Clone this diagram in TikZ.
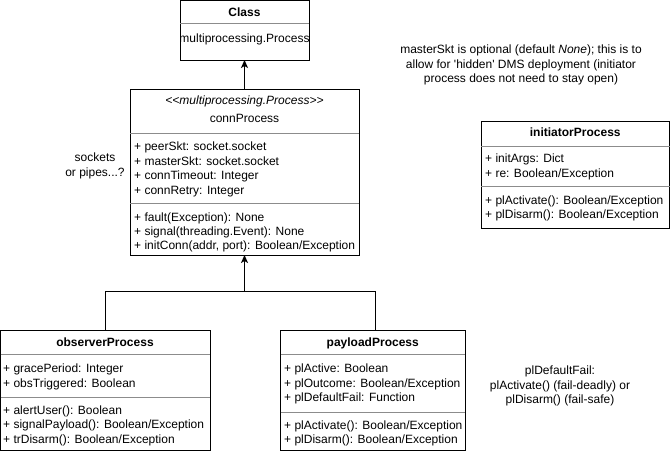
\documentclass[tikz,border=0pt]{standalone}
\usepackage{fontspec}
\setmainfont{Liberation Sans}
\usetikzlibrary{arrows.meta}
\begin{document}
\begin{tikzpicture}[x=1pt,y=-1pt,
  box/.style={draw=black, line width=1pt, rectangle, inner sep=0pt, outer sep=0pt, anchor=north west},
  div/.style={draw=black!45, line width=1pt},
  txt/.style={font=\fontsize{12pt}{14.4pt}\selectfont, inner sep=0pt, text height=8.6pt, text depth=0pt},
  mem/.style={txt, anchor=west},
  ttl/.style={txt, font=\fontsize{12pt}{14.4pt}\selectfont\bfseries},
  stereo/.style={txt, font=\fontsize{12pt}{14.4pt}\selectfont\itshape},
  note/.style={font=\fontsize{12pt}{14.4pt}\selectfont, align=center, inner sep=0pt},
  conn/.style={line width=1pt, draw=black},
  arr/.style={conn, -{Stealth[length=8pt,width=7pt,inset=2pt]}}
]
\useasboundingbox (0,0) rectangle (671,452);

% Class
\node[box, minimum width=129pt, minimum height=59pt] (cls) at (180,1) {};
\draw[div] (180,24) -- (309,24);
\node[ttl] (clsT) at (244.5,12) {Class};
\node[txt] (clsA) at (244.5,38) {multiprocessing.Process};

% connProcess
\node[box, minimum width=229pt, minimum height=165.5pt] (cp) at (130,89.5) {};
\node[stereo] (cpS) at (244.5,100) {<{}<multiprocessing.Process>{}>};
\node[txt] (cpT) at (244.5,118) {connProcess};
\draw[div] (130,133) -- (359,133);
\node[mem] (cpa1) at (134,146) {+ peerSkt: socket.socket};
\node[mem] (cpa2) at (134,161) {+ masterSkt: socket.socket};
\node[mem] (cpa3) at (134,175.5) {+ connTimeout: Integer};
\node[mem] (cpa4) at (134,190) {+ connRetry: Integer};
\draw[div] (130,203) -- (359,203);
\node[mem] (cpm1) at (134,217.5) {+ fault(Exception): None};
\node[mem] (cpm2) at (134,231.5) {+ signal(threading.Event): None};
\node[mem] (cpm3) at (134,245.5) {+ initConn(addr, port): Boolean/Exception};

% observerProcess
\node[box, minimum width=209.5pt, minimum height=120pt] (obs) at (0.5,330) {};
\node[ttl] (obsT) at (105,342) {observerProcess};
\draw[div] (0.5,354) -- (210,354);
\node[mem] (obsa1) at (3,368.5) {+ gracePeriod: Integer};
\node[mem] (obsa2) at (3,383) {+ obsTriggered: Boolean};
\draw[div] (0.5,397) -- (210,397);
\node[mem] (obsm1) at (3,410) {+ alertUser(): Boolean};
\node[mem] (obsm2) at (3,424.5) {+ signalPayload(): Boolean/Exception};
\node[mem] (obsm3) at (3,439) {+ trDisarm(): Boolean/Exception};

% payloadProcess
\node[box, minimum width=184.5pt, minimum height=120pt] (pay) at (280.5,330) {};
\node[ttl] (payT) at (372.75,342) {payloadProcess};
\draw[div] (280.5,354) -- (465,354);
\node[mem] (paya1) at (284,368.5) {+ plActive: Boolean};
\node[mem] (paya2) at (284,383) {+ plOutcome: Boolean/Exception};
\node[mem] (paya3) at (284,397) {+ plDefaultFail: Function};
\draw[div] (280.5,412) -- (465,412);
\node[mem] (paym1) at (284,425) {+ plActivate(): Boolean/Exception};
\node[mem] (paym2) at (284,439) {+ plDisarm(): Boolean/Exception};

% initiatorProcess
\node[box, minimum width=188.5pt, minimum height=107.5pt] (ini) at (481,121) {};
\node[ttl] (iniT) at (575.25,132) {initiatorProcess};
\draw[div] (481,146) -- (669.5,146);
\node[mem] (inia1) at (485,158.5) {+ initArgs: Dict};
\node[mem] (inia2) at (485,173) {+ re: Boolean/Exception};
\draw[div] (481,186) -- (669.5,186);
\node[mem] (inim1) at (485,200) {+ plActivate(): Boolean/Exception};
\node[mem] (inim2) at (485,214) {+ plDisarm(): Boolean/Exception};

% notes
\node[note] (n1) at (521,65) {masterSkt is optional (default \textit{None}); this is to\\allow for \textquotesingle hidden\textquotesingle{} DMS deployment (initiator\\process does not need to stay open)};
\node[note] (n2) at (95,166) {sockets\\or pipes...?};
\node[note] (n3) at (560,386) {plDefaultFail:\\plActivate() (fail-deadly) or\\plDisarm() (fail-safe)};

% connectors
\draw[arr] (cp.north) -- (cls.south);
\path (cp.south) ++(0,36) coordinate (j);
\draw[conn] (obs.north) |- (j);
\draw[conn] ([xshift=3pt]pay.north) |- (j);
\draw[arr] (j) -- (cp.south);
\end{tikzpicture}
\end{document}
